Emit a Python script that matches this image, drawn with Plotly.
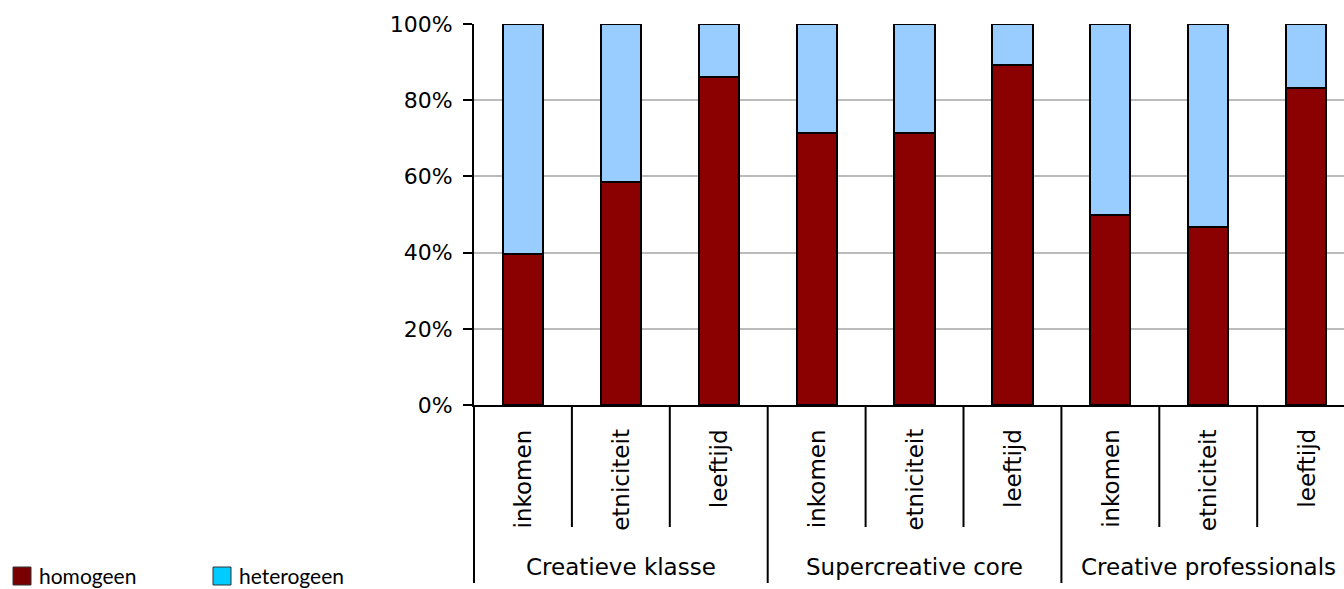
import plotly.graph_objects as go

# Data: share of homogeneous vs heterogeneous networks per group and dimension
groups = ["Creatieve klasse", "Supercreative core", "Creative professionals"]
dimensions = ["inkomen", "etniciteit", "leeftijd"]
homogeen = [39.6, 58.6, 86.2, 71.3, 71.3, 89.2, 50.0, 46.8, 83.3]
heterogeen = [60.4, 41.4, 13.8, 28.7, 28.7, 10.8, 50.0, 53.2, 16.7]
y_ticks = [0, 20, 40, 60, 80, 100]
y_tick_labels = [f"{v}%" for v in y_ticks]

# Layout constants (pixels)
W, H = 1344, 589
ML, MR, MT, MB = 474, 0, 24, 184
CAT_PX = 97.9  # width of one category slot
PLOT_W = W - ML - MR
PLOT_H = H - MT - MB
X0 = -0.5
X1 = X0 + PLOT_W / CAT_PX

FONT = "DejaVu Sans"
BAR_RED = "#8b0000"
BAR_BLUE = "#99ccff"


def px_to_paper_x(px):
    return (px - ML) / PLOT_W


def px_to_paper_y(py):
    return (H - MB - py) / PLOT_H


def cat_to_paper_x(c):
    return (c - X0) / (X1 - X0)


n_cat = len(groups) * len(dimensions)
xs = list(range(n_cat))

fig = go.Figure()
fig.add_trace(go.Bar(
    x=xs, y=homogeen, name="homogeen",
    marker=dict(color=BAR_RED, line=dict(color="black", width=2)),
    showlegend=False,
))
fig.add_trace(go.Bar(
    x=xs, y=heterogeen, name="heterogeen",
    marker=dict(color=BAR_BLUE, line=dict(color="black", width=2)),
    showlegend=False,
))

shapes = []
annotations = []

# Category separators below the x axis
for b in range(n_cat + 1):
    is_group_edge = b % len(dimensions) == 0
    y_end = px_to_paper_y(583 if is_group_edge else 527)
    xp = cat_to_paper_x(b - 0.5)
    shapes.append(dict(
        type="line", xref="paper", yref="paper",
        x0=xp, x1=xp, y0=0, y1=y_end,
        line=dict(color="black", width=2),
    ))

# Inner (dimension) labels, rotated
for i in xs:
    annotations.append(dict(
        x=i, y=px_to_paper_y(427), xref="x", yref="paper",
        text=dimensions[i % len(dimensions)], textangle=-90,
        xanchor="center", yanchor="top", showarrow=False,
        font=dict(family=FONT, size=23, color="black"),
    ))

# Group labels
for g, name in enumerate(groups):
    mid = g * len(dimensions) + (len(dimensions) - 1) / 2
    annotations.append(dict(
        x=mid, y=px_to_paper_y(567), xref="x", yref="paper",
        text=name, xanchor="center", yanchor="middle", showarrow=False,
        font=dict(family=FONT, size=23, color="black"),
    ))

# Legend drawn as swatches and labels at the bottom left
legend_items = [("homogeen", "#7a0000", 13, 37), ("heterogeen", "#00ccff", 213, 237)]
for label, color, sq_x, txt_x in legend_items:
    shapes.append(dict(
        type="rect", xref="paper", yref="paper",
        x0=px_to_paper_x(sq_x), x1=px_to_paper_x(sq_x + 18),
        y0=px_to_paper_y(585), y1=px_to_paper_y(567),
        fillcolor=color, line=dict(color="#333333", width=1),
    ))
    annotations.append(dict(
        x=px_to_paper_x(txt_x), y=px_to_paper_y(575), xref="paper", yref="paper",
        text=label, xanchor="left", yanchor="middle", showarrow=False,
        font=dict(family="Lato", size=21, color="black"),
    ))

fig.update_layout(
    width=W, height=H,
    margin=dict(l=ML, r=MR, t=MT, b=MB, pad=0),
    barmode="stack", bargap=0.59,
    plot_bgcolor="white", paper_bgcolor="white",
    showlegend=False,
    shapes=shapes, annotations=annotations,
    font=dict(family=FONT, size=22, color="black"),
)
fig.update_xaxes(
    range=[X0, X1], showticklabels=False, ticks="",
    showgrid=False, zeroline=False,
    showline=True, linecolor="black", linewidth=2,
)
fig.update_yaxes(
    range=[0, 100], tickmode="array", tickvals=y_ticks, ticktext=y_tick_labels,
    ticks="outside", ticklen=9, tickwidth=2, tickcolor="black",
    ticklabelstandoff=6,
    showgrid=True, gridcolor="#bbbbbb", gridwidth=1.5,
    zeroline=False,
    showline=True, linecolor="black", linewidth=2,
    tickfont=dict(family=FONT, size=22, color="black"),
)

fig.write_html("out.html")
